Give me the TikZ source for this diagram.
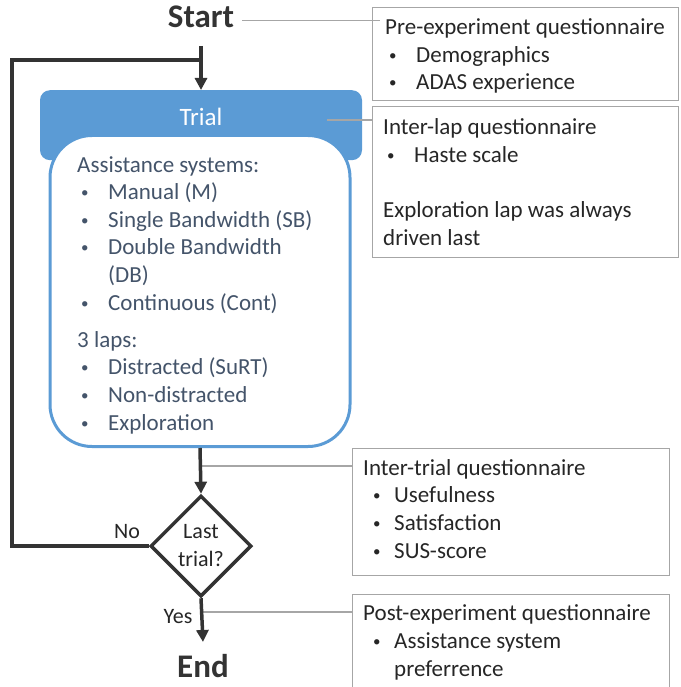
\documentclass[tikz,border=0pt]{standalone}
\usepackage{fontspec}
\setmainfont{Carlito}
\usetikzlibrary{arrows.meta,shapes.geometric}
\definecolor{trialblue}{HTML}{5B9BD5}
\definecolor{trialtext}{HTML}{44546A}
\definecolor{flowgray}{HTML}{333333}
\definecolor{notegray}{HTML}{A6A6A6}
\definecolor{notetext}{HTML}{262626}
\newcommand{\itm}[2][4pt]{\makebox[31pt][l]{\hspace{#1}\raisebox{2pt}{\fontsize{15}{15}\selectfont\textbullet}}#2}

\begin{document}
\begin{tikzpicture}[x=1pt, y=-1pt,
    flow/.style={draw=flowgray, line width=3.5pt},
    flowarrow/.style={flow, -{Triangle[length=12pt,width=12pt]}},
    note/.style={draw=notegray, line width=1.2pt},
    notebox/.style={note, anchor=north west, inner sep=0pt},
    notetxt/.style={anchor=base west, align=left, inner sep=0pt, text=notetext, font=\fontsize{23}{27.6}\selectfont},
    ends/.style={anchor=base, inner sep=0pt, text=flowgray, font=\fontsize{33}{36}\selectfont\bfseries}]

  \clip (0,0) rectangle (680,687);

  \node[ends] (start) at (201,28) {Start};
  \node[ends] (end) at (203,677) {End};

  \node[fill=trialblue, rounded corners=10pt, minimum width=322pt, minimum height=70pt, anchor=north] (trialhead) at (201,90) {};
  \node[draw=trialblue, line width=3pt, fill=white, rounded corners=42pt, minimum width=300pt, minimum height=311pt, anchor=north] (trialbox) at (200,134) {};
  \node[text=white, font=\fontsize{25}{30}\selectfont] (triallabel) at (201,117) {Trial};
  \node[notetxt, text=trialtext] (trialtxt) at (77,430) {Assistance systems:\\
    \itm{Manual (M)}\\
    \itm{Single Bandwidth (SB)}\\
    \itm{Double Bandwidth}\\
    \hspace*{31pt}(DB)\\
    \itm{Continuous (Cont)}\\[9.5pt]
    3 laps:\\
    \itm{Distracted (SuRT)}\\
    \itm{Non-distracted}\\
    \itm{Exploration}};

  \node[diamond, draw=flowgray, line width=3.5pt, minimum width=101pt, minimum height=101pt, inner sep=0pt, align=center, text=notetext, font=\fontsize{22}{28}\selectfont] (decision) at (201,546) {Last\\trial?};
  \node[text=notetext, font=\fontsize{22}{26}\selectfont] (no) at (127,532) {No};
  \node[text=notetext, font=\fontsize{22}{26}\selectfont] (yes) at (178,617) {Yes};

  \node[notebox, minimum width=306pt, minimum height=93pt] (pre) at (372,7) {};
  \node[notetxt] (pretxt) at (385,90) {Pre-experiment questionnaire\\
    \itm{Demographics}\\
    \itm{ADAS experience}};

  \node[notebox, minimum width=306pt, minimum height=151pt] (interlap) at (372,106) {};
  \node[notetxt] (interlaptxt) at (383,245) {Inter-lap questionnaire\\
    \itm{Haste scale}\\[27.6pt]
    Exploration lap was always\\
    driven last};

  \node[notebox, minimum width=317pt, minimum height=127pt] (intertrial) at (352,448) {};
  \node[notetxt] (intertrialtxt) at (363,558) {Inter-trial questionnaire\\
    \itm[10pt]{Usefulness}\\
    \itm[10pt]{Satisfaction}\\
    \itm[10pt]{SUS-score}};

  \node[notebox, minimum width=317pt, minimum height=110pt] (post) at (352,594) {};
  \node[notetxt] (posttxt) at (363,676) {Post-experiment questionnaire\\
    \itm[10pt]{Assistance system}\\
    \hspace*{31pt}preferrence};

  \coordinate (lapnote) at (327,120);
  \coordinate (trialnote) at (201,466);
  \coordinate (postnote) at (201,612);
  \draw[note] ([shift={(8pt,-3pt)}]start.east) -- ([shift={(8pt,-3pt)}]start.east -| pre.west);
  \draw[note] (lapnote) -- (lapnote -| interlap.west);
  \draw[note] (trialnote) -- (trialnote -| intertrial.west);
  \draw[note] (postnote) -- (postnote -| post.west);

  \coordinate (loopjoin) at (201,60);
  \coordinate (loopcorner) at (12,60);
  \draw[flowarrow] ([yshift=-18pt]start.base) -- (trialhead.north);
  \draw[flow] (decision.west) -| (loopcorner) -- (loopjoin);
  \draw[flowarrow] (trialbox.south) -- (decision.north);
  \draw[flowarrow] (decision.south) -- ([yshift=35pt]end.base);

\end{tikzpicture}
\end{document}
